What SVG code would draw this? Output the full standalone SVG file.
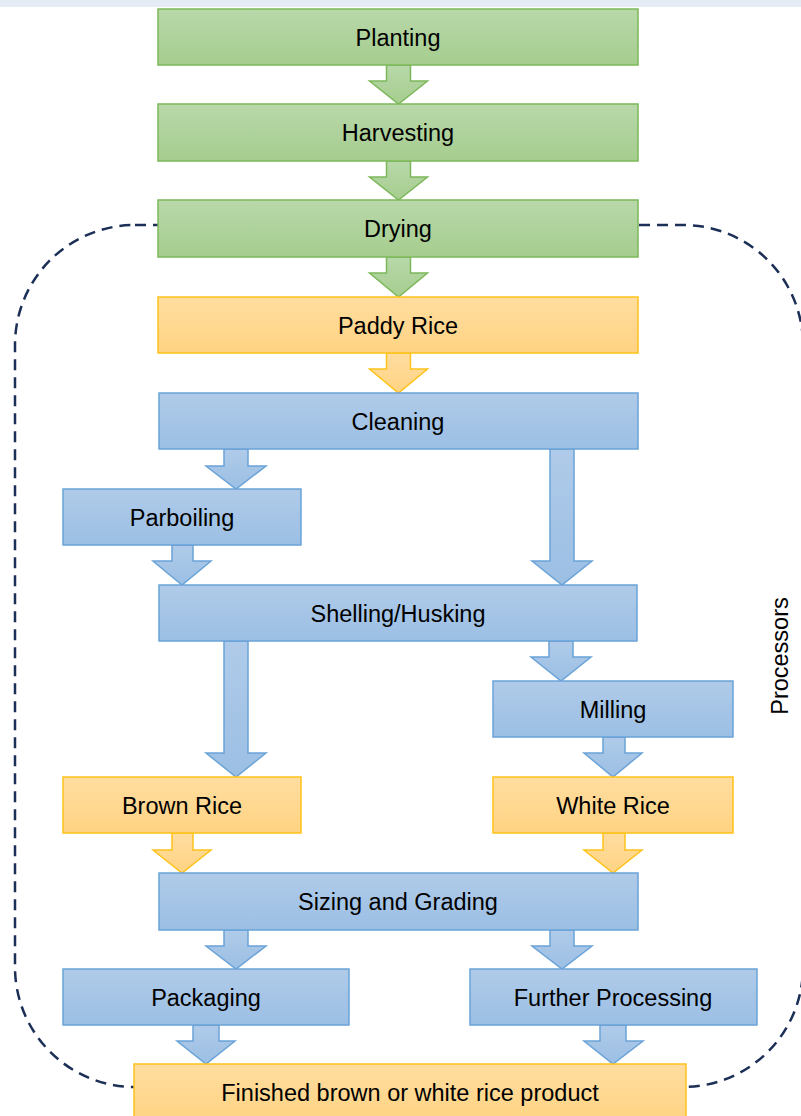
<svg xmlns="http://www.w3.org/2000/svg" width="801" height="1116" viewBox="0 0 801 1116">
<defs>
<linearGradient id="gG" x1="0" y1="0" x2="0" y2="1"><stop offset="0" stop-color="#b8d8a9"/><stop offset="1" stop-color="#a6cd8f"/></linearGradient>
<linearGradient id="gO" x1="0" y1="0" x2="0" y2="1"><stop offset="0" stop-color="#ffdda0"/><stop offset="1" stop-color="#ffd382"/></linearGradient>
<linearGradient id="gB" x1="0" y1="0" x2="0" y2="1"><stop offset="0" stop-color="#b0cbe9"/><stop offset="1" stop-color="#9bbfe4"/></linearGradient>
<style>
.g{fill:url(#gG);stroke:#7cb85a;stroke-width:1.5}
.o{fill:url(#gO);stroke:#ffc21a;stroke-width:1.5}
.b{fill:url(#gB);stroke:#6aa3d8;stroke-width:1.5}
.t{font-family:"Liberation Sans",Arial,sans-serif;font-size:23.5px;fill:#000;text-anchor:middle}
</style>
</defs>
<rect x="0" y="0" width="801" height="7" fill="#e6ecf6"/>
<g id="processors-boundary">
<rect x="15" y="225" width="788" height="862" rx="120" ry="120" fill="none" stroke="#1c2f56" stroke-width="2.5" stroke-dasharray="11,7"/>
<text class="t" transform="translate(788,656) rotate(-90)">Processors</text>
</g>
<g id="connectors">
<polygon class="g" points="386.5,65 410.5,65 410.5,81 427.5,81 398.5,104 369.5,81 386.5,81"/>
<polygon class="g" points="386.5,161 410.5,161 410.5,177 427.5,177 398.5,200 369.5,177 386.5,177"/>
<polygon class="g" points="386.5,257 410.5,257 410.5,273 427.5,273 398.5,297 369.5,273 386.5,273"/>
<polygon class="o" points="386.5,353 410.5,353 410.5,369 427.5,369 398.5,393 369.5,369 386.5,369"/>
<polygon class="b" points="224,449 248,449 248,466 266,466 236,489 206,466 224,466"/>
<polygon class="b" points="550,449 574,449 574,561 592,561 562,585 532,561 550,561"/>
<polygon class="b" points="172,545 193,545 193,561 211,561 182,585 153,561 172,561"/>
<polygon class="b" points="224,641 248,641 248,753 266,753 236,777 206,753 224,753"/>
<polygon class="b" points="549,641 573,641 573,657 591,657 561,681 531,657 549,657"/>
<polygon class="b" points="603,737 625,737 625,753 642,753 613,777 584,753 603,753"/>
<polygon class="o" points="172,833 193,833 193,850 211,850 182,873 153,850 172,850"/>
<polygon class="o" points="603,833 625,833 625,850 642,850 613,873 584,850 603,850"/>
<polygon class="b" points="224,930 248,930 248,946 266,946 236,969 206,946 224,946"/>
<polygon class="b" points="550,930 574,930 574,946 592,946 562,969 532,946 550,946"/>
<polygon class="b" points="193,1025 219,1025 219,1041 235,1041 206,1064 177,1041 193,1041"/>
<polygon class="b" points="600,1025 626,1025 626,1041 643,1041 613,1064 584,1041 600,1041"/>
</g>
<g id="planting"><rect class="g" x="158" y="9" width="480" height="56"/><text class="t" x="398" y="45.5">Planting</text></g>
<g id="harvesting"><rect class="g" x="158" y="104" width="480" height="57"/><text class="t" x="398" y="140.5">Harvesting</text></g>
<g id="drying"><rect class="g" x="158" y="200" width="480" height="57"/><text class="t" x="398" y="236.5">Drying</text></g>
<g id="paddy-rice"><rect class="o" x="158" y="297" width="480" height="56"/><text class="t" x="398" y="333.5">Paddy Rice</text></g>
<g id="cleaning"><rect class="b" x="159" y="393" width="479" height="56"/><text class="t" x="398" y="429.5">Cleaning</text></g>
<g id="parboiling"><rect class="b" x="63" y="489" width="238" height="56"/><text class="t" x="182" y="525.5">Parboiling</text></g>
<g id="shelling"><rect class="b" x="159" y="585" width="478" height="56"/><text class="t" x="398" y="621.5">Shelling/Husking</text></g>
<g id="milling"><rect class="b" x="493" y="681" width="240" height="56"/><text class="t" x="613" y="717.5">Milling</text></g>
<g id="brown-rice"><rect class="o" x="63" y="777" width="238" height="56"/><text class="t" x="182" y="813.5">Brown Rice</text></g>
<g id="white-rice"><rect class="o" x="493" y="777" width="240" height="56"/><text class="t" x="613" y="813.5">White Rice</text></g>
<g id="sizing"><rect class="b" x="159" y="873" width="479" height="57"/><text class="t" x="398" y="909.5">Sizing and Grading</text></g>
<g id="packaging"><rect class="b" x="63" y="969" width="286" height="56"/><text class="t" x="206" y="1005.5">Packaging</text></g>
<g id="further-processing"><rect class="b" x="470" y="969" width="287" height="56"/><text class="t" x="613" y="1005.5">Further Processing</text></g>
<g id="finished"><rect class="o" x="134" y="1064" width="552" height="60"/><text class="t" x="410" y="1100.5">Finished brown or white rice product</text></g>
</svg>
